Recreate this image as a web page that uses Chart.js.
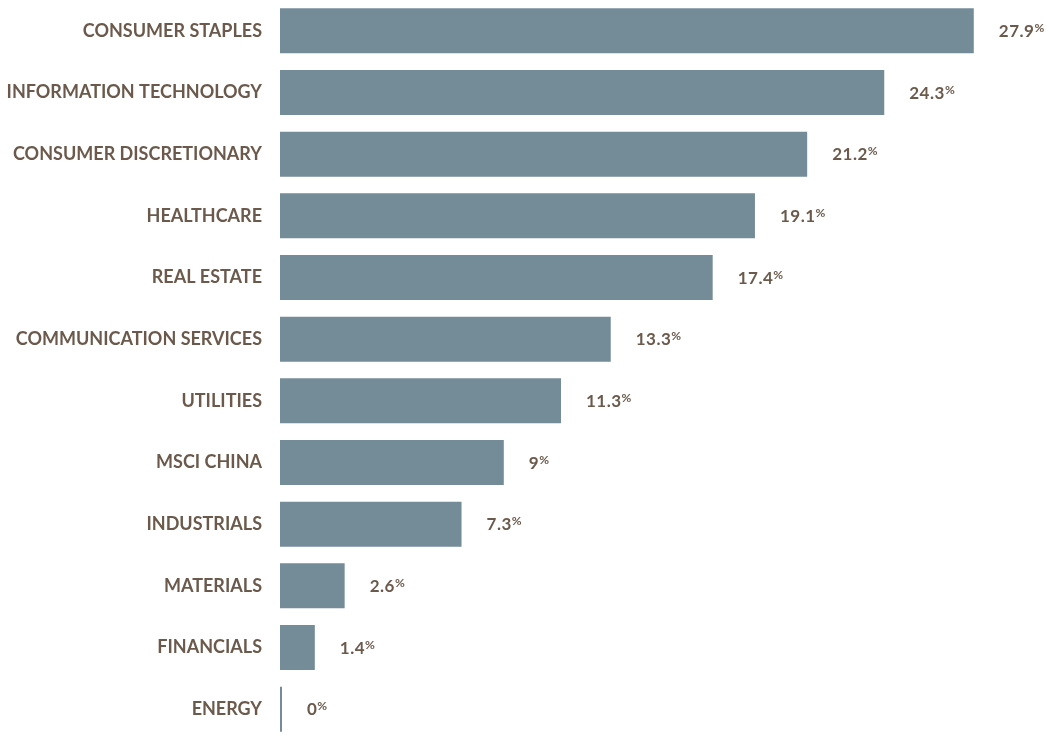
<!DOCTYPE html>
<html>
<head>
<meta charset="utf-8">
<script src="https://cdn.jsdelivr.net/npm/chart.js@4/dist/chart.umd.min.js"></script>
<style>
  html, body { margin: 0; padding: 0; background: #ffffff; }
  #wrap { position: relative; width: 1049px; height: 740px; }
</style>
</head>
<body>
<div id="wrap"><canvas id="chart"></canvas></div>
<script>
const sectors = [
  'CONSUMER STAPLES', 'INFORMATION TECHNOLOGY', 'CONSUMER DISCRETIONARY',
  'HEALTHCARE', 'REAL ESTATE', 'COMMUNICATION SERVICES', 'UTILITIES',
  'MSCI CHINA', 'INDUSTRIALS', 'MATERIALS', 'FINANCIALS', 'ENERGY'
];
const returnsPct = [27.9, 24.3, 21.2, 19.1, 17.4, 13.3, 11.3, 9, 7.3, 2.6, 1.4, 0];

const TEXT = '#6b5a4c';
const BAR = '#748b98';
const FONT = 'Lato';

// Value labels: number followed by a small raised "%" sign
const valueLabels = {
  id: 'valueLabels',
  afterDatasetsDraw(chart) {
    const ctx = chart.ctx;
    const meta = chart.getDatasetMeta(0);
    ctx.save();
    ctx.fillStyle = TEXT;
    ctx.textBaseline = 'alphabetic';
    meta.data.forEach((bar, i) => {
      const txt = String(returnsPct[i]);
      const x = bar.x + 25;
      const y = bar.y + 6;
      ctx.font = `bold 17px ${FONT}`;
      ctx.letterSpacing = '0.5px';
      ctx.fillText(txt, x, y);
      const w = ctx.measureText(txt).width;
      ctx.letterSpacing = '0px';
      ctx.font = `bold 12px ${FONT}`;
      ctx.fillText('%', x + w, y - 5);
    });
    ctx.restore();
  }
};

new Chart(document.getElementById('chart'), {
  type: 'bar',
  data: {
    labels: sectors,
    datasets: [{
      data: returnsPct,
      backgroundColor: BAR,
      borderWidth: 0,
      minBarLength: 2,
      barPercentage: 0.73,
      categoryPercentage: 1.0
    }]
  },
  options: {
    indexAxis: 'y',
    responsive: true,
    maintainAspectRatio: false,
    animation: false,
    layout: { padding: { left: 0, right: 23, top: 0, bottom: 0 } },
    plugins: {
      legend: { display: false },
      tooltip: { enabled: false }
    },
    scales: {
      x: {
        min: 0,
        max: 30,
        display: false,
        grid: { display: false }
      },
      y: {
        grid: { display: false },
        border: { display: false },
        afterFit(scale) {
          scale.width = 280;
          scale.paddingTop = 0;
          scale.paddingBottom = 0;
        },
        ticks: {
          color: TEXT,
          padding: 10,
          font: { family: FONT, size: 18, weight: 'bold' }
        }
      }
    }
  },
  plugins: [valueLabels]
});
</script>
</body>
</html>
